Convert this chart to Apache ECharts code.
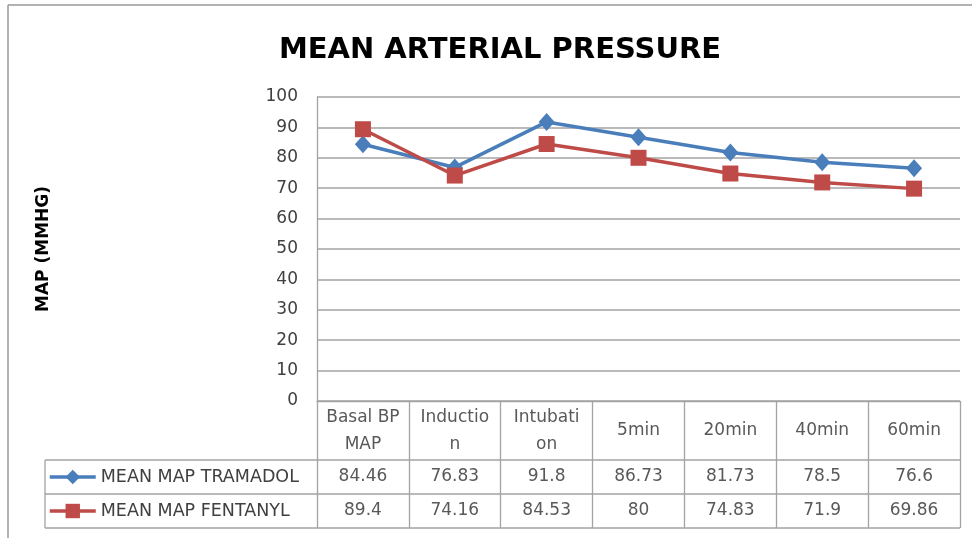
<!DOCTYPE html>
<html>
<head>
<meta charset="utf-8">
<script src="https://cdn.jsdelivr.net/npm/echarts@6/dist/echarts.min.js"></script>
<style>
  html, body { margin: 0; padding: 0; background: #fff; }
  #chart { width: 972px; height: 538px; }
</style>
</head>
<body>
<div id="chart"></div>
<script>
// categories as printed in the table header (Excel wraps them mid-word)
const categories = ["Basal BP\nMAP", "Inductio\nn", "Intubati\non", "5min", "20min", "40min", "60min"]
const tramadol = [84.46, 76.83, 91.8, 86.73, 81.73, 78.5, 76.6]
const fentanyl = [89.4, 74.16, 84.53, 80, 74.83, 71.9, 69.86]
const seriesNames = ["MEAN MAP TRAMADOL", "MEAN MAP FENTANYL"]
const yTicks = { min: 0, max: 100, interval: 10 }

const BLUE = "#4a7ebb", RED = "#be4b48"
const GRID = "#a3a3a3", TXT = "#404040", CELL = "#595959"
const FONT = "DejaVu Sans"
const FS = 17

// grid box
const gLeft = 317, gRight = 12, gTop = 97, gBottom = 137
const W = 972, H = 538
const axisY = H - gBottom           // y of the 0 line
const headH = 59, rowH = 34
const tableLeft = 45

function valueAxis(values, offset) {
    return {
        type: "category",
        position: "bottom",
        offset: offset,
        data: values.map(String),
        axisLine: { show: false },
        axisTick: { show: false },
        axisLabel: {
            interval: 0, margin: rowH / 2, verticalAlign: "middle",
            color: CELL, fontSize: FS, fontFamily: FONT
        }
    }
}

const chart = echarts.init(document.getElementById("chart"), null, { renderer: "canvas" })

const rowTop1 = axisY + headH, rowTop2 = rowTop1 + rowH, rowBot = rowTop2 + rowH
const legendH = 18

chart.setOption({
    animation: false,
    backgroundColor: "#fff",
    title: {
        text: "MEAN ARTERIAL PRESSURE",
        left: 495, top: 31, textAlign: "center",
        textStyle: { fontFamily: FONT, fontWeight: "bold", fontSize: 29, color: "#000" }
    },
    grid: { left: gLeft, right: gRight, top: gTop, bottom: gBottom, containLabel: false },
    legend: {
        orient: "vertical",
        padding: 0,
        left: 48, top: rowTop1 + rowH / 2 - legendH / 2,
        itemWidth: 46, itemHeight: legendH, itemGap: rowH - legendH,
        selectedMode: false,
        lineStyle: { width: 3.5 },
        textStyle: { fontFamily: FONT, fontSize: 17.5, color: TXT, lineHeight: legendH },
        data: seriesNames
    },
    xAxis: [
        {
            type: "category",
            data: categories,
            boundaryGap: true,
            axisLine: { show: true, lineStyle: { color: GRID, width: 1.3 } },
            axisTick: { show: true, interval: 0, length: headH + 2 * rowH, lineStyle: { color: GRID, width: 1.3 } },
            axisLabel: {
                interval: 0, margin: 30, verticalAlign: "middle", align: "center",
                color: CELL, fontSize: FS, fontFamily: FONT, lineHeight: 27
            }
        },
        valueAxis(tramadol, headH),
        valueAxis(fentanyl, headH + rowH)
    ],
    yAxis: {
        type: "value",
        min: yTicks.min, max: yTicks.max, interval: yTicks.interval,
        name: "MAP (MMHG)",
        nameLocation: "middle",
        nameGap: gLeft - 52,
        nameTextStyle: { fontFamily: FONT, fontWeight: "bold", fontSize: 17, color: "#000" },
        axisLine: { show: true, lineStyle: { color: GRID, width: 1.3 } },
        axisTick: { show: false },
        splitLine: { lineStyle: { color: GRID, width: 1.5 } },
        axisLabel: { margin: 19, color: TXT, fontSize: FS, fontFamily: FONT }
    },
    series: [
        {
            name: seriesNames[0], type: "line", data: tramadol,
            symbol: "diamond", symbolSize: [16, 18],
            itemStyle: { color: BLUE },
            lineStyle: { color: BLUE, width: 3.5 }
        },
        {
            name: seriesNames[1], type: "line", data: fentanyl,
            symbol: "rect", symbolSize: 16,
            itemStyle: { color: RED },
            lineStyle: { color: RED, width: 3.5 }
        }
    ],
    graphic: [
        // outer chart frame (only top/left edges are inside the crop)
        { type: "line", shape: { x1: 8, y1: 5, x2: W + 10, y2: 5 }, style: { stroke: "#999", lineWidth: 1.5 }, silent: true },
        { type: "line", shape: { x1: 8, y1: 5, x2: 8, y2: H + 10 }, style: { stroke: "#999", lineWidth: 1.5 }, silent: true },
        // table row lines and legend column border
        { type: "line", shape: { x1: tableLeft, y1: rowTop1, x2: W - gRight, y2: rowTop1 }, style: { stroke: GRID, lineWidth: 1.3 } },
        { type: "line", shape: { x1: tableLeft, y1: rowTop2, x2: W - gRight, y2: rowTop2 }, style: { stroke: GRID, lineWidth: 1.3 } },
        { type: "line", shape: { x1: tableLeft, y1: rowBot, x2: W - gRight, y2: rowBot }, style: { stroke: GRID, lineWidth: 1.3 } },
        { type: "line", shape: { x1: tableLeft, y1: rowTop1, x2: tableLeft, y2: rowBot }, style: { stroke: GRID, lineWidth: 1.3 } }
    ]
})
</script>
</body>
</html>
